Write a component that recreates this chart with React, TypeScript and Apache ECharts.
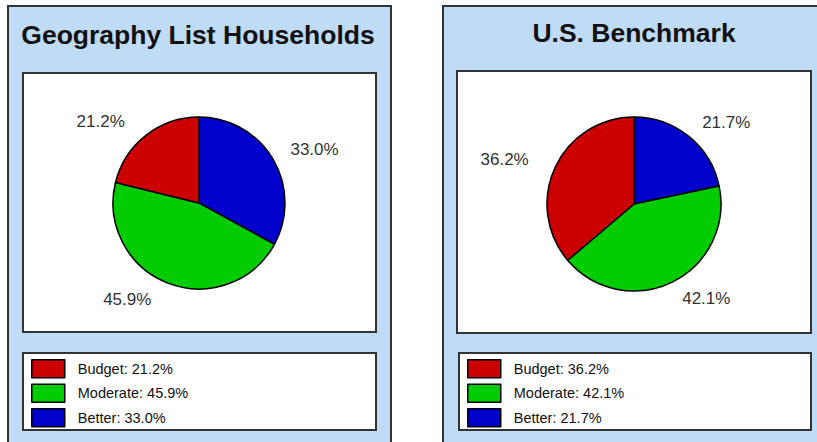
import React, { useEffect, useRef } from "react";
import * as echarts from "echarts";

const categories = ["Budget", "Moderate", "Better"];
const geographyValues = [21.2, 45.9, 33.0];
const benchmarkValues = [36.2, 42.1, 21.7];
const panelTitles = ["Geography List Households", "U.S. Benchmark"];
const sliceColors = ["#CC0000", "#00CC00", "#0000CC"];
// slices are drawn clockwise from 12 o'clock in this order
const drawOrder = [2, 1, 0];

const FONT = "Liberation Sans, Arial, sans-serif";
const PANEL_BG = "#C0DBF5";
const EDGE = "#333333";

function itemName(values: number[], i: number) {
  return `${categories[i]}: ${values[i].toFixed(1)}%`;
}

function pieSeries(values: number[], center: [number, number], radius: number) {
  return {
    type: "pie",
    center,
    radius,
    startAngle: 90,
    clockwise: true,
    avoidLabelOverlap: false,
    silent: true,
    emphasis: { disabled: true },
    itemStyle: { borderColor: "#000", borderWidth: 1.5 },
    label: {
      show: true,
      position: "outside",
      formatter: (p: any) => `${Number(p.value).toFixed(1)}%`,
      fontFamily: FONT,
      fontSize: 17,
      color: "#333",
      distanceToLabelLine: 4,
      offset: [-4, 0],
    },
    labelLine: { show: false, length: 18, length2: 2 },
    data: drawOrder.map((i) => ({
      name: itemName(values, i),
      value: values[i],
      itemStyle: { color: sliceColors[i] },
    })),
  };
}

function legendFor(values: number[], left: number, top: number) {
  return {
    orient: "vertical",
    left,
    top,
    padding: 0,
    itemWidth: 33,
    itemHeight: 18,
    itemGap: 5,
    icon: "rect",
    selectedMode: false,
    itemStyle: { borderColor: "#000", borderWidth: 1.5 },
    textStyle: {
      fontFamily: FONT,
      fontSize: 14.5,
      color: "#111",
      padding: [0, 0, 0, 8],
    },
    data: categories.map((_, i) => itemName(values, i)),
  };
}

export default function App() {
  const ref = useRef<HTMLDivElement>(null);
  useEffect(() => {
    if (!ref.current) return;
    const chart = echarts.init(ref.current, undefined, { renderer: "svg" });
    const box = (x: number, y: number, w: number, h: number, fill: string, lw = 2) => ({
      type: "rect",
      z: -10,
      shape: { x, y, width: w, height: h },
      style: { fill, stroke: EDGE, lineWidth: lw },
      silent: true,
    });
    chart.setOption({
      animation: false,
      backgroundColor: "#ffffff",
      graphic: [
        box(8, 6, 383, 460, PANEL_BG),
        box(443, 6, 400, 460, PANEL_BG),
        box(23, 73, 353, 259, "#ffffff"),
        box(23, 353, 353, 77, "#ffffff"),
        box(457, 71, 354, 262, "#ffffff"),
        box(459, 353, 352, 77, "#ffffff"),
        {
          type: "text",
          x: 198,
          y: 35,
          style: {
            text: panelTitles[0],
            font: `bold 26.5px ${FONT}`,
            fill: "#111",
            textAlign: "center",
            textVerticalAlign: "middle",
          },
        },
        {
          type: "text",
          x: 634,
          y: 33,
          style: {
            text: panelTitles[1],
            font: `bold 26.5px ${FONT}`,
            fill: "#111",
            textAlign: "center",
            textVerticalAlign: "middle",
          },
        },
      ],
      legend: [legendFor(geographyValues, 31, 359), legendFor(benchmarkValues, 467, 359)],
      series: [
        pieSeries(geographyValues, [199, 203], 86),
        pieSeries(benchmarkValues, [634, 204], 87),
      ],
    });
    return () => chart.dispose();
  }, []);
  return (
    <div
      ref={ref}
      style={{ position: "absolute", left: 0, top: 0, width: 817, height: 442 }}
    />
  );
}
